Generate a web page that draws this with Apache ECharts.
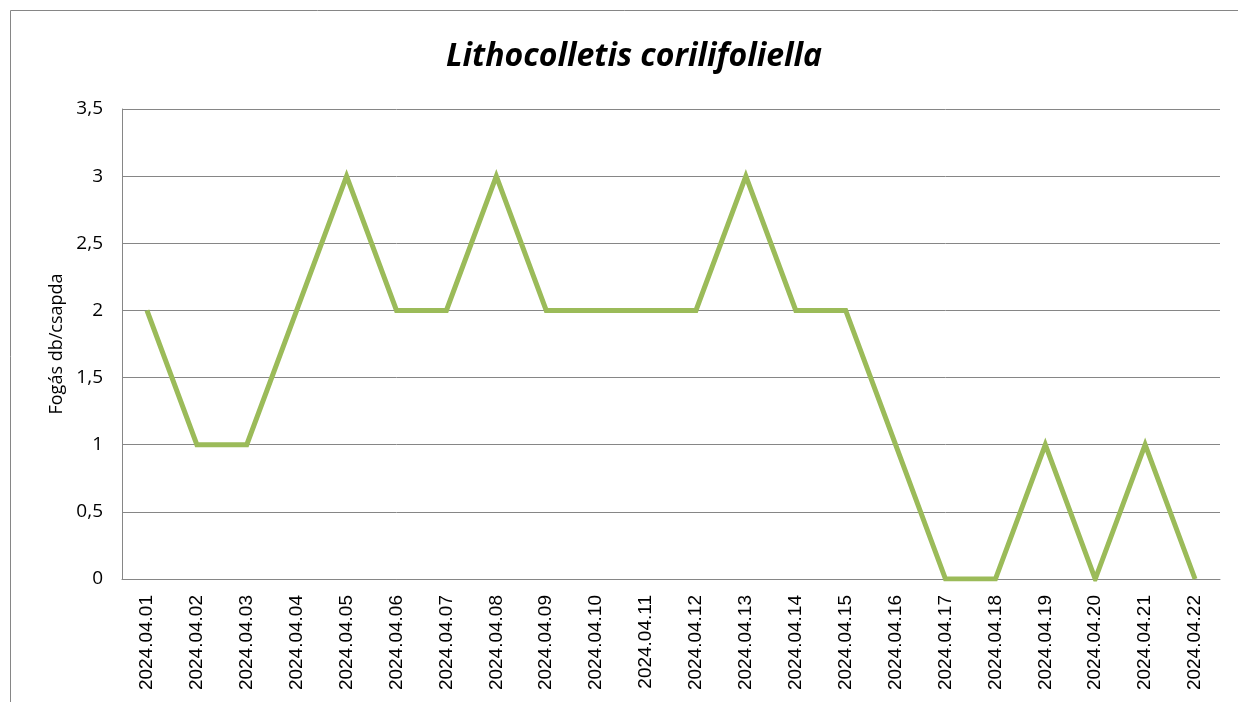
<!DOCTYPE html>
<html>
<head>
<meta charset="utf-8">
<script src="https://cdn.jsdelivr.net/npm/echarts@6/dist/echarts.min.js"></script>
<style>
html, body { margin: 0; padding: 0; background: #fff; }
#main { width: 1238px; height: 702px; }
</style>
</head>
<body>
<div id="main"></div>
<script>
var dates = ['2024.04.01', '2024.04.02', '2024.04.03', '2024.04.04', '2024.04.05', '2024.04.06',
    '2024.04.07', '2024.04.08', '2024.04.09', '2024.04.10', '2024.04.11', '2024.04.12',
    '2024.04.13', '2024.04.14', '2024.04.15', '2024.04.16', '2024.04.17', '2024.04.18',
    '2024.04.19', '2024.04.20', '2024.04.21', '2024.04.22'];
var catches = [2, 1, 1, 2, 3, 2, 2, 3, 2, 2, 2, 2, 3, 2, 2, 1, 0, 0, 1, 0, 1, 0];
var yTicks = [0, 0.5, 1, 1.5, 2, 2.5, 3, 3.5];

var myChart = echarts.init(document.getElementById('main'));

var option = {
    animation: false,
    backgroundColor: '#fff',
    graphic: [{
        type: 'rect',
        shape: { x: 10.5, y: 10.5, width: 1240, height: 700 },
        style: { fill: 'none', stroke: '#868686', lineWidth: 1 }
    }],
    title: {
        text: 'Lithocolletis corilifoliella',
        left: 441,
        top: 36,
        textStyle: {
            fontFamily: 'Open Sans',
            fontStyle: 'italic',
            fontWeight: 'bold',
            fontSize: 32,
            color: '#000'
        }
    },
    grid: { left: 122, right: 18, top: 109, bottom: 123 },
    xAxis: {
        type: 'category',
        data: dates,
        boundaryGap: true,
        axisLine: { lineStyle: { color: '#868686', width: 1 } },
        axisTick: { show: false },
        axisLabel: {
            rotate: 90,
            interval: 0,
            margin: 16,
            fontFamily: 'Liberation Sans',
            fontSize: 19,
            color: '#000'
        }
    },
    yAxis: {
        type: 'value',
        min: yTicks[0],
        max: yTicks[yTicks.length - 1],
        interval: 0.5,
        name: 'Fogás db/csapda',
        nameLocation: 'middle',
        nameGap: 56,
        nameTextStyle: { fontFamily: 'Open Sans', fontSize: 18, color: '#000' },
        axisLine: { show: true, lineStyle: { color: '#868686', width: 1 } },
        axisTick: { show: false },
        splitLine: { lineStyle: { color: '#868686', width: 1 } },
        axisLabel: {
            margin: 19,
            fontFamily: 'Open Sans',
            fontSize: 19,
            color: '#000',
            formatter: function (v) { return String(v).replace('.', ','); }
        }
    },
    series: [{
        type: 'line',
        data: catches,
        symbol: 'none',
        lineStyle: { color: '#9BBB59', width: 5, join: 'miter' }
    }]
};

myChart.setOption(option);
</script>
</body>
</html>
